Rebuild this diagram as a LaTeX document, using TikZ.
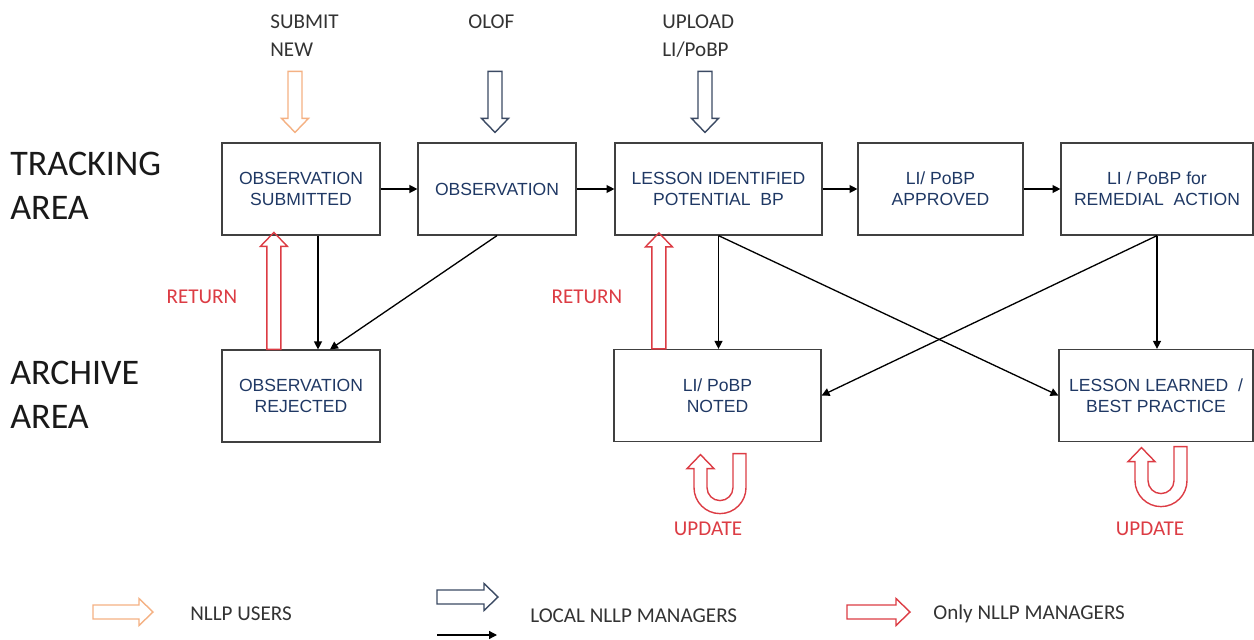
\documentclass[tikz,border=0pt]{standalone}
\usepackage{fontspec}
\setmainfont{Carlito}
\newfontfamily\boxfont{Liberation Sans}
\usetikzlibrary{calc, arrows.meta}
\definecolor{navy}{HTML}{1F3864}
\definecolor{slate}{HTML}{3B4A63}
\definecolor{peach}{HTML}{F4B183}
\definecolor{rouge}{HTML}{DC3C44}
\definecolor{edge}{HTML}{404040}

% hollow block arrow: colour, start, angle, length
\newcommand{\fatarrow}[4]{%
  \draw[#1, line width=0.8pt, shift={#2}, rotate=#3] (0,-7) -- ({#4-14},-7) -- ({#4-14},-13.5) -- (#4,0)
    -- ({#4-14},13.5) -- ({#4-14},7) -- (0,7) -- cycle;}
% hollow u-turn arrow round a centre point
\newcommand{\uturn}[1]{%
  \draw[rouge, line width=0.8pt, shift={#1}, yscale=-1] (26,34) -- (26,0) arc[start angle=0, end angle=-180, radius=26]
    -- (-26,19) -- (-33,19) -- (-19.5,33) -- (-6,19) -- (-13,19) -- (-13,0)
    arc[start angle=180, end angle=360, radius=13] -- (13,34) -- cycle;}

\begin{document}
\begin{tikzpicture}[x=0.02cm, y=-0.02cm,
    box/.style={draw=edge, line width=0.7pt, minimum height=1.84cm, inner sep=0pt, align=center,
      text=navy, font=\boxfont\fontsize{10}{12}\selectfont},
    flow/.style={-{Triangle[length=4.5pt, width=4.5pt]}, line width=0.75pt},
    area/.style={anchor=west, align=left, inner sep=0pt, text=black!90, font=\fontsize{20.5}{25}\selectfont},
    tag/.style={inner sep=0pt, align=left, text=black!80, font=\fontsize{12}{16}\selectfont},
    redtag/.style={inner sep=0pt, anchor=base, text=rouge, font=\fontsize{12}{16}\selectfont}]
  \useasboundingbox (0,0) rectangle (1254,639);

  % rows
  \node[area] (trk) at (10,186) {TRACKING\\AREA};
  \node[area] (arc) at (10,394.5) {ARCHIVE\\AREA};

  % tracking area
  \node[box, minimum width=3.16cm] (sub) at (301,189) {OBSERVATION\\SUBMITTED};
  \node[box, minimum width=3.16cm] (obs) at (497,189) {OBSERVATION};
  \node[box, minimum width=4.14cm] (lesson) at (718.5,189) {LESSON IDENTIFIED\\POTENTIAL\ \ BP};
  \node[box, minimum width=3.3cm] (appr) at (940.5,189) {LI/ PoBP\\APPROVED};
  \node[box, minimum width=3.84cm] (remed) at (1157,189) {LI / PoBP for\\REMEDIAL\ \ ACTION};

  % archive area
  \node[box, minimum width=3.16cm] (rej) at (301,396) {OBSERVATION\\REJECTED};
  \node[box, minimum width=4.14cm] (noted) at (717.5,395.5) {LI/ PoBP\\NOTED};
  \node[box, minimum width=3.88cm] (learned) at (1156,395.5) {LESSON LEARNED\ \ /\\BEST PRACTICE};

  % inputs
  \node[tag, anchor=west] (submit) at (270,36) {SUBMIT\\NEW};
  \node[tag, anchor=base west] (olof) at (468,29) {OLOF};
  \node[tag, anchor=west] (upload) at (662,36) {UPLOAD\\LI/PoBP};
  \fatarrow{peach}{($(sub.north)+(-6,-71)$)}{-90}{61}
  \fatarrow{slate}{($(obs.north)+(-2,-71)$)}{-90}{61}
  \fatarrow{slate}{($(lesson.north)+(-13.5,-71)$)}{-90}{61}

  % flow
  \draw[flow] (sub) -- (obs);
  \draw[flow] (obs) -- (lesson);
  \draw[flow] (lesson) -- (appr);
  \draw[flow] (appr) -- (remed);
  \draw[flow] ($(sub.south)+(17,0)$) -- ($(rej.north)+(17,0)$);
  \draw[flow] (obs.south) -- ($(rej.north)+(29,0)$);
  \draw[flow] (lesson.south) -- (lesson.south |- noted.north);
  \draw[flow] (lesson.south) -- (learned.west);
  \draw[flow] (remed.south) -- (remed.south |- learned.north);
  \draw[flow] (remed.south) -- (noted.east);

  % return / update
  \fatarrow{rouge}{($(rej.north west)+(52.5,0)$)}{90}{117}
  \fatarrow{rouge}{($(noted.north west)+(45.5,0)$)}{90}{116}
  \node[redtag] (ret1) at (202,303) {RETURN};
  \node[redtag] (ret2) at (587,303) {RETURN};
  \uturn{($(noted.south)+(2.5,45.5)$)}
  \uturn{($(learned.south)+(5,38.5)$)}
  \node[redtag] (upd1) at (708,535) {UPDATE};
  \node[redtag] (upd2) at (1150,535) {UPDATE};

  % legend
  \coordinate (lg1) at (93,612);
  \fatarrow{peach}{(lg1)}{0}{60}
  \node[tag, anchor=base west] (lgt1) at (190,620) {NLLP USERS};
  \coordinate (lg2) at (437,597);
  \fatarrow{slate}{(lg2)}{0}{61}
  \coordinate (lg3a) at (437,635);
  \coordinate (lg3b) at (497,635);
  \draw[flow] (lg3a) -- (lg3b);
  \node[tag, anchor=base west] (lgt2) at (530,622) {LOCAL NLLP MANAGERS};
  \coordinate (lg4) at (847,612);
  \fatarrow{rouge}{(lg4)}{0}{63}
  \node[tag, anchor=base west] (lgt3) at (933,619) {Only NLLP MANAGERS};
\end{tikzpicture}
\end{document}
